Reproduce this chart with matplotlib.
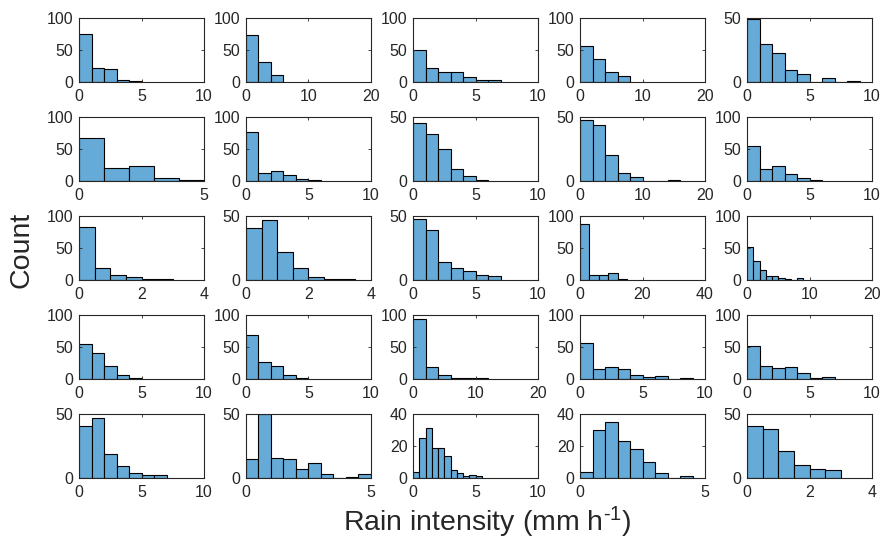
import numpy as np
import matplotlib
matplotlib.use("Agg")
import matplotlib.pyplot as plt

plt.rcParams["font.family"] = ["Liberation Sans", "DejaVu Sans"]
plt.rcParams["mathtext.fontset"] = "custom"
plt.rcParams["mathtext.rm"] = "Liberation Sans"
plt.rcParams["mathtext.it"] = "Liberation Sans:italic"

# ── histogram data, one entry per panel (row-major, 5 x 5) ──────────────────

BIN_WIDTH = [1, 2, 1, 2, 1,
             1, 1, 1, 2, 1,
             0.5, 0.5, 1, 3, 1,
             1, 1, 2, 1, 1,
             1, 0.5, 0.5, 0.5, 0.5]

X_MAX = [10, 20, 10, 20, 10,
         5, 10, 10, 20, 10,
         4, 4, 10, 40, 20,
         10, 10, 20, 10, 10,
         10, 5, 10, 5, 4]

Y_MAX = [100, 100, 100, 100, 50,
         100, 100, 50, 50, 100,
         100, 50, 50, 100, 100,
         100, 100, 100, 100, 100,
         50, 50, 40, 40, 50]

COUNTS = [
    [75, 22, 20, 3, 1],
    [74, 31, 11],
    [50, 22, 16, 15, 8, 3, 3],
    [56, 36, 16, 9],
    [49, 30, 23, 9, 6, 0, 3, 0, 1],

    [67, 21, 24, 5, 1],
    [76, 13, 16, 10, 3, 1],
    [45, 37, 25, 9, 4, 1],
    [48, 44, 20, 6, 3, 0, 0, 1],
    [55, 19, 24, 11, 5, 1],

    [83, 19, 8, 5, 2, 1],
    [41, 47, 22, 9, 2, 1, 1],
    [48, 39, 14, 9, 7, 4, 3],
    [87, 8, 8, 11, 1],
    [51, 29, 15, 7, 7, 3, 1, 0, 3],

    [54, 40, 20, 6, 2],
    [68, 27, 20, 6, 2],
    [93, 18, 6, 2, 2, 2],
    [57, 15, 18, 15, 7, 3, 4, 0, 2],
    [51, 21, 17, 18, 9, 2, 3],

    [41, 47, 19, 9, 4, 2, 2],
    [15, 50, 16, 15, 7, 12, 3, 0, 1, 3],
    [4, 25, 31, 19, 19, 14, 5, 3, 1, 2, 1],
    [4, 30, 35, 23, 18, 10, 3, 0, 1],
    [41, 38, 21, 10, 7, 6],
]

X_TICKS = {4: [0, 2, 4], 5: [0, 5], 10: [0, 5, 10], 20: [0, 10, 20], 40: [0, 20, 40]}
Y_TICKS = {40: [0, 20, 40], 50: [0, 50], 100: [0, 50, 100]}

BAR_COLOR = "#66AAD7"
INK = "#262626"

# ── layout (pixels) ──────────────────────────────────────────────────────────
W, H = 882, 542
col_left = [79, 246, 413, 580, 747]
row_top = [18, 117, 216, 315, 414]
ax_w, ax_h = 125, 64

fig = plt.figure(figsize=(W / 100, H / 100), dpi=100)

for i in range(25):
    r, c = divmod(i, 5)
    ax = fig.add_axes([col_left[c] / W, (H - row_top[r] - ax_h) / H, ax_w / W, ax_h / H])
    counts = np.array(COUNTS[i], dtype=float)
    edges = np.arange(len(counts) + 1) * BIN_WIDTH[i]
    centers = edges[:-1] + BIN_WIDTH[i] / 2
    ax.hist(centers, bins=edges, weights=counts, color=BAR_COLOR,
            edgecolor="black", linewidth=0.8)
    ax.set_xlim(0, X_MAX[i])
    ax.set_ylim(0, Y_MAX[i])
    ax.set_xticks(X_TICKS[X_MAX[i]])
    ax.set_yticks(Y_TICKS[Y_MAX[i]])
    ax.tick_params(direction="in", length=2, width=0.6, colors=INK,
                   labelsize=11.5, top=True, right=True)
    ax.tick_params(axis="x", pad=5)
    ax.tick_params(axis="y", pad=4)
    for s in ax.spines.values():
        s.set_color(INK)
        s.set_linewidth(0.8)

fig.text(22 / W, 1 - 250 / H, "Count", rotation=90, ha="center", va="center",
         fontsize=20.5, color=INK)
fig.text(487 / W, 1 - 522 / H, r"Rain intensity (mm h$^{\text{-}1}$)", ha="center",
         va="center", fontsize=20.5, color=INK)

fig.savefig("out.png", dpi=100)
